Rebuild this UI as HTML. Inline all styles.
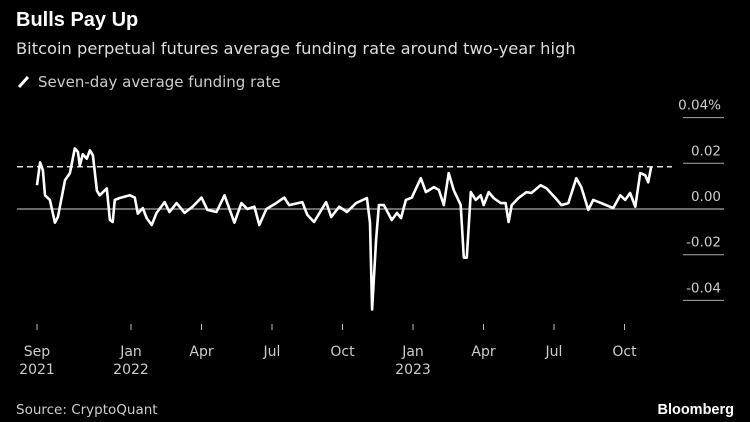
<!DOCTYPE html>
<html><head><meta charset="utf-8"><style>
body{margin:0;background:#000;width:750px;height:422px;overflow:hidden;font-family:"DejaVu Sans","Liberation Sans",sans-serif;color:#fff}
svg{position:absolute;left:0;top:0}
</style></head><body>
<svg width="750" height="422">
<text x="16" y="26" font-size="20" font-weight="bold" fill="#fff" font-family="Liberation Sans, sans-serif">Bulls Pay Up</text>
<text x="16" y="54" font-size="16.3" fill="#ddd">Bitcoin perpetual futures average funding rate around two-year high</text>
<line x1="19" y1="87" x2="28" y2="77" stroke="#fff" stroke-width="3"/>
<text x="38" y="87" font-size="15" fill="#ccc">Seven-day average funding rate</text>
<g id="yaxis"></g>
<g id="xaxis"></g>
<g id="plot"></g>
<text x="16" y="414" font-size="13.5" fill="#ccc">Source: CryptoQuant</text>
<text x="734" y="414" font-size="14.5" font-weight="bold" fill="#fff" text-anchor="end" font-family="Liberation Sans, sans-serif">Bloomberg</text>
</svg>
<script>
const months=[0,0.13,0.25,0.34,0.55,0.76,0.89,1.19,1.40,1.61,1.74,1.82,1.95,2.12,2.25,2.38,2.55,2.67,2.97,3.10,3.22,3.31,3.52,3.95,4.16,4.29,4.50,4.67,4.88,5.09,5.43,5.64,5.94,6.28,6.62,7.00,7.25,7.64,7.98,8.40,8.70,8.95,9.25,9.46,9.76,10.18,10.52,10.73,11.29,11.50,11.79,12.30,12.52,12.86,13.19,13.58,14.04,14.17,14.26,14.43,14.55,14.76,15.10,15.32,15.49,15.70,15.95,16.33,16.55,16.89,17.10,17.31,17.52,17.73,18.03,18.16,18.29,18.46,18.67,18.88,19.01,19.22,19.43,19.73,19.94,20.07,20.20,20.49,20.83,21.04,21.43,21.68,22.06,22.32,22.61,22.95,23.16,23.46,23.67,24.01,24.52,24.82,25.03,25.24,25.46,25.67,25.88,26.01,26.13];
const values=[0.0104,0.0204,0.017,0.006,0.004,-0.006,-0.0035,0.0126,0.0157,0.0265,0.025,0.019,0.024,0.022,0.0257,0.0235,0.008,0.006,0.009,-0.0048,-0.0057,0.004,0.0048,0.006,0.005,-0.002,0.0004,-0.004,-0.007,-0.0017,0.003,-0.0013,0.0026,-0.0017,0.001,0.005,-0.0004,-0.0013,0.006,-0.006,0.0026,0,0.001,-0.007,0,0.0026,0.005,0.0017,0.003,-0.0026,-0.0057,0.003,-0.0035,0.001,-0.0013,0.0026,0.0048,-0.006,-0.044,-0.0135,0.0017,0.0017,-0.0048,-0.0017,-0.004,0.004,0.005,0.0135,0.0074,0.0096,0.0083,0.0017,0.0157,0.0083,0.0017,-0.0213,-0.0213,0.0074,0.004,0.006,0.0017,0.0074,0.0048,0.0026,0.0026,-0.0057,0.0017,0.0048,0.0074,0.007,0.0104,0.009,0.0048,0.0017,0.0026,0.0135,0.0096,-0.0004,0.004,0.0026,0.0004,0.006,0.004,0.007,0.001,0.0157,0.0148,0.0117,0.0183];
const yTicks=[0.04,0.02,0,-0.02,-0.04];
const yTickLabels=["0.04%","0.02","0.00","-0.02","-0.04"];
const xTickMonths=[0,4,7,10,13,16,19,22,25];
const xTickLabels=[["Sep","2021"],["Jan","2022"],["Apr",""],["Jul",""],["Oct",""],["Jan","2023"],["Apr",""],["Jul",""],["Oct",""]];
const currentLevel=0.0185;
const NS="http://www.w3.org/2000/svg";
const X=m=>37+m*23.5, Y=v=>209-v/0.02*45.7;
function mk(t,a,p){const e=document.createElementNS(NS,t);for(const k in a)e.setAttribute(k,a[k]);p.appendChild(e);return e;}
const ya=document.getElementById('yaxis'),xa=document.getElementById('xaxis'),pl=document.getElementById('plot');
yTicks.forEach((v,i)=>{
 const y=Y(v);
 if(v!==0){const l=mk('line',{x1:683,x2:724,y1:y,y2:y,stroke:'#aaa','stroke-width':1},ya);
 
 }
 const t=mk('text',{x:721,y:y-8,'font-size':13.5,fill:'#ccc','text-anchor':'end'},ya);
 t.textContent=yTickLabels[i];
 
 
});
const z=mk('line',{x1:17,x2:724,y1:Y(0),y2:Y(0),stroke:'#aaa','stroke-width':1.3},ya);


xTickMonths.forEach((m,i)=>{
 const x=X(m);
 const l=mk('line',{x1:x,x2:x,y1:324,y2:330,stroke:'#bbb','stroke-width':1},xa);
 
 
 xTickLabels[i].forEach((s,j)=>{if(!s)return;
  const t=mk('text',{x:x,y:356+j*18,'font-size':14,fill:'#ccc','text-anchor':'middle'},xa);
  t.textContent=s;
  
  });
});
const d=mk('line',{x1:17,x2:672,y1:Y(currentLevel),y2:Y(currentLevel),stroke:'#ddd','stroke-width':1.5,'stroke-dasharray':'6 4'},pl);


const p=mk('polyline',{points:months.map((m,i)=>X(m).toFixed(1)+','+Y(values[i]).toFixed(1)).join(' '),fill:'none',stroke:'#fff','stroke-width':2.6,'stroke-linejoin':'round'},pl);


</script>
</body></html>
